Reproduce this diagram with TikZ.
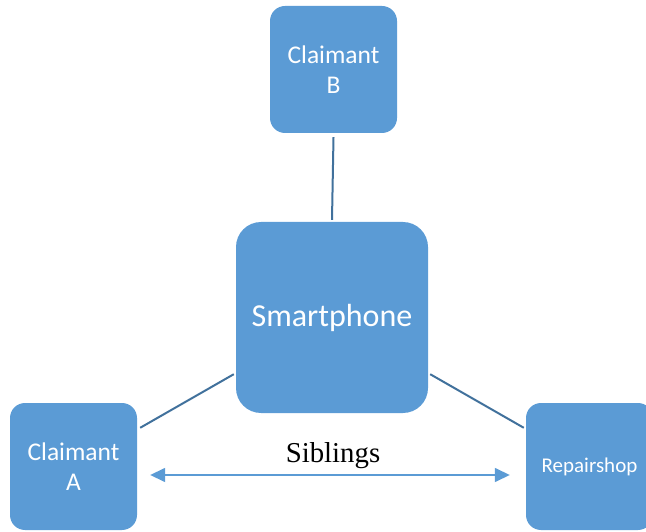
\documentclass[tikz,border=0pt]{standalone}
\usepackage{fontspec}
\setmainfont{Carlito}
\newfontfamily\serifface{Liberation Serif}
\usetikzlibrary{arrows.meta}
\definecolor{boxblue}{HTML}{5B9BD5}
\definecolor{linkblue}{HTML}{41719C}
\tikzset{
  party/.style={fill=boxblue, draw=none, rounded corners=15pt, minimum width=127pt,
    minimum height=127pt, inner sep=0pt, text=white, align=center, font=\fontsize{25.5}{30}\selectfont},
  hub/.style={party, minimum width=192pt, minimum height=191pt, rounded corners=25pt,
    font=\fontsize{32}{36}\selectfont},
  link/.style={draw=linkblue, line width=2pt},
  sibling/.style={draw=boxblue, line width=1.5pt, {Triangle[length=15pt,width=14pt]}-{Triangle[length=15pt,width=14pt]}}
}
\begin{document}
\begin{tikzpicture}[x=1pt,y=1pt]
\useasboundingbox (0,0) rectangle (646,531);
\node[party] (B) at (333.5,461.5) {Claimant\\B};
\node[hub] (S) at (332,213.5) {Smartphone};
\node[party] (A) at (73.5,64.5) {Claimant\\A};
\node[party, font=\fontsize{21}{24}\selectfont] (R) at (589.5,64.5) {Repairshop};
% connectors to the hub
\draw[link] ([yshift=-4pt]B.south) -- ([yshift=2pt]S.north);
\draw[link] ([xshift=3pt,yshift=-25pt]A.north east) -- ([xshift=-2pt,yshift=39pt]S.south west);
\draw[link] ([xshift=2pt,yshift=39pt]S.south east) -- ([xshift=-2pt,yshift=-25pt]R.north west);
% sibling relation
\coordinate (aL) at ([xshift=13pt,yshift=-8.5pt]A.east);
\coordinate (aR) at ([xshift=-16pt,yshift=-8.5pt]R.west);
\draw[sibling] (aL) -- (aR);
\node[anchor=base, font=\serifface\fontsize{28.8}{32}\selectfont] (sib) at (333,69) {Siblings};
\end{tikzpicture}
\end{document}
